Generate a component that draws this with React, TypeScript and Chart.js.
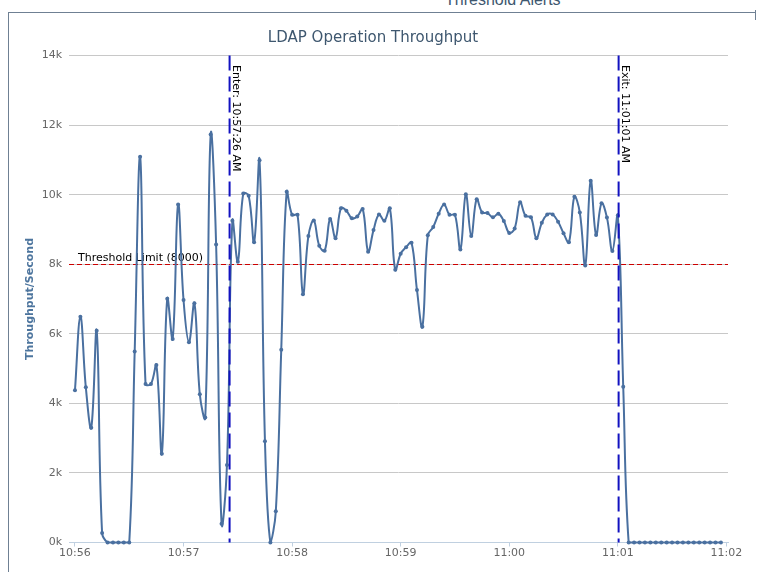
import React, { useEffect, useRef } from "react";
import { Chart, registerables } from "chart.js";

Chart.register(...registerables);

const TITLE = "LDAP Operation Throughput";
const Y_TITLE = "Throughput/Second";
const PANEL_TITLE = "Threshold Alerts";

// one sample every 3 seconds starting at 10:56:00
const SAMPLE_SECONDS = 3;
const throughput = [
  4380, 6490, 4460, 3300, 6090, 270, 0, 0, 0, 0,
  0, 5490, 11090, 4560, 4560, 5100, 2550, 7010, 5850, 9720,
  6970, 5760, 6880, 4260, 3590, 11730, 8570, 540, 2230, 9250,
  8070, 10030, 9970, 8630, 10990, 2910, 0, 900, 5540, 10080,
  9420, 9420, 7140, 8810, 9260, 8530, 8390, 9300, 8750, 9610,
  9540, 9320, 9370, 9590, 8360, 8980, 9430, 9250, 9610, 7840,
  8300, 8490, 8620, 7260, 6200, 8830, 9070, 9450, 9720, 9420,
  9420, 8420, 10010, 8810, 9870, 9490, 9470, 9350, 9450, 9240,
  8900, 9030, 9780, 9390, 9350, 8750, 9190, 9430, 9430, 9220,
  8890, 8630, 9940, 9490, 7960, 10400, 8840, 9750, 9340, 8380,
  9400, 4480, 0, 0, 0, 0, 0, 0, 0, 0,
  0, 0, 0, 0, 0, 0, 0, 0, 0, 0,
];

// x axis in seconds after 10:56:00
const xTickSeconds = [0, 60, 120, 180, 240, 300, 360];
const xTickLabels = ["10:56", "10:57", "10:58", "10:59", "11:00", "11:01", "11:02"];
const X_MIN = -3.3;
const X_MAX = 360.9;

const Y_MIN = 0;
const Y_MAX = 14000;
const Y_STEP = 2000;

const THRESHOLD = 8000;
const THRESHOLD_LABEL = "Threshold Limit (8000)";

const eventSeconds = [86, 301];
const eventLabels = ["Enter: 10:57:26 AM", "Exit: 11:01:01 AM"];

const FONT = '"DejaVu Sans", Verdana, sans-serif';

const overlayPlugin = {
  id: "overlay",
  beforeDatasetsDraw(chart: any) {
    const { ctx, chartArea, scales } = chart;
    const y = scales.y;
    const yp = Math.round(y.getPixelForValue(THRESHOLD)) + 0.5;
    ctx.save();
    ctx.strokeStyle = "#cc0000";
    ctx.lineWidth = 1;
    ctx.setLineDash([5, 3]);
    ctx.beginPath();
    ctx.moveTo(chartArea.left, yp);
    ctx.lineTo(chartArea.right, yp);
    ctx.stroke();
    ctx.setLineDash([]);
    ctx.fillStyle = "#000";
    ctx.font = `11px ${FONT}`;
    ctx.textAlign = "left";
    ctx.textBaseline = "alphabetic";
    ctx.fillText(THRESHOLD_LABEL, chartArea.left + 9, yp - 3.5);
    ctx.restore();
  },
  afterDatasetsDraw(chart: any) {
    const { ctx, chartArea, scales } = chart;
    const x = scales.x;
    ctx.save();
    eventSeconds.forEach((sec, i) => {
      const xp = x.getPixelForValue(sec) - 1;
      ctx.strokeStyle = "#1212c0";
      ctx.lineWidth = 2;
      ctx.setLineDash([15, 6]);
      ctx.beginPath();
      ctx.moveTo(xp, chartArea.top);
      ctx.lineTo(xp, chartArea.bottom);
      ctx.stroke();
      ctx.setLineDash([]);
      ctx.save();
      ctx.translate(xp + 3, chartArea.top + 9.5);
      ctx.rotate(Math.PI / 2);
      ctx.fillStyle = "#000";
      ctx.font = `11px ${FONT}`;
      ctx.textAlign = "left";
      ctx.textBaseline = "alphabetic";
      ctx.fillText(eventLabels[i], 0, 0);
      ctx.restore();
    });
    ctx.restore();
  },
  afterDraw(chart: any) {
    const { ctx, chartArea } = chart;
    ctx.save();
    ctx.fillStyle = "#3E576F";
    ctx.font = `15px ${FONT}`;
    ctx.textAlign = "center";
    ctx.textBaseline = "alphabetic";
    ctx.fillText(TITLE, 373, 42);

    const cy = (chartArea.top + chartArea.bottom) / 2;
    ctx.translate(33, cy);
    ctx.rotate(-Math.PI / 2);
    ctx.fillStyle = "#4d759e";
    ctx.font = `bold 11px ${FONT}`;
    ctx.textAlign = "center";
    ctx.fillText(Y_TITLE, 0, 0);
    ctx.restore();
  },
};

export default function App() {
  const ref = useRef<HTMLCanvasElement>(null);

  useEffect(() => {
    const canvas = ref.current;
    if (!canvas) return;
    const points = throughput.map((v, i) => ({ x: i * SAMPLE_SECONDS, y: v }));
    const chart = new Chart(canvas, {
      type: "line",
      data: {
        datasets: [
          {
            data: points,
            borderColor: "#4a70a0",
            backgroundColor: "#4a70a0",
            borderWidth: 2,
            pointRadius: 2,
            pointBackgroundColor: "#4a70a0",
            pointBorderWidth: 0,
            tension: 0.4,
            fill: false,
            clip: false as any,
          },
        ],
      },
      options: {
        responsive: false,
        animation: false,
        devicePixelRatio: 1,
        events: [],
        layout: { padding: { top: 55.5, right: 31, bottom: 0, left: 0 } },
        plugins: {
          legend: { display: false },
          tooltip: { enabled: false },
          title: { display: false },
        },
        scales: {
          x: {
            type: "linear",
            min: X_MIN,
            max: X_MAX,
            afterBuildTicks: (axis: any) => {
              axis.ticks = xTickSeconds.map((v) => ({ value: v }));
            },
            afterFit: (s: any) => {
              s.height = 29.5;
            },
            ticks: {
              autoSkip: false,
              maxRotation: 0,
              padding: 0,
              color: "#666",
              font: { family: FONT, size: 11 },
              callback: (v: any) => {
                const idx = xTickSeconds.indexOf(Number(v));
                return idx >= 0 ? xTickLabels[idx] : "";
              },
            },
            grid: {
              drawOnChartArea: false,
              drawTicks: true,
              tickLength: 4,
              color: "#C0D0E0",
            },
            border: { display: true, color: "#C0D0E0", width: 1 },
          },
          y: {
            min: Y_MIN,
            max: Y_MAX,
            afterFit: (s: any) => {
              s.width = 69;
            },
            ticks: {
              stepSize: Y_STEP,
              padding: 7,
              color: "#666",
              font: { family: FONT, size: 11 },
              callback: (v: any) => `${Number(v) / 1000}k`,
            },
            grid: {
              drawTicks: false,
              color: (c: any) => (c.tick && c.tick.value === 0 ? "rgba(0,0,0,0)" : "#C8C8C8"),
            },
            border: { display: false },
          },
        },
      },
      plugins: [overlayPlugin],
    });
    return () => chart.destroy();
  }, []);

  return (
    <div
      style={{
        position: "absolute",
        left: 0,
        top: 0,
        width: 759,
        height: 572,
        background: "#fff",
        overflow: "hidden",
      }}
    >
      <div
        style={{
          position: "absolute",
          left: 445,
          top: 0,
          width: 130,
          height: 11,
          overflow: "hidden",
        }}
      >
        <span
          style={{
            position: "absolute",
            left: 0,
            top: -8,
            whiteSpace: "nowrap",
            fontFamily: '"Liberation Sans", Arial, sans-serif',
            fontSize: 16,
            lineHeight: "16px",
            color: "#3E576F",
          }}
        >
          {PANEL_TITLE}
        </span>
      </div>
      <div
        style={{
          position: "absolute",
          left: 8,
          top: 12,
          width: 747,
          height: 600,
          borderLeft: "1px solid #6f8093",
          borderTop: "1px solid #6f8093",
        }}
      />
      <div
        style={{
          position: "absolute",
          left: 755,
          top: 10,
          width: 1,
          height: 10,
          background: "#6f8093",
        }}
      />
      <canvas
        ref={ref}
        width={759}
        height={572}
        style={{ position: "absolute", left: 0, top: 0, width: 759, height: 572 }}
      />
    </div>
  );
}
